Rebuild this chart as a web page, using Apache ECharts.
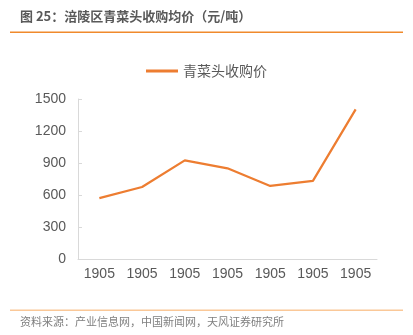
<!DOCTYPE html>
<html><head><meta charset="utf-8">
<script src="https://cdn.jsdelivr.net/npm/echarts@6/dist/echarts.min.js"></script>
<style>html,body{margin:0;padding:0;background:#fff}#c{width:413px;height:335px}</style>
</head><body><div id="c"></div>
<script>
const categories = ['1905','1905','1905','1905','1905','1905','1905'];
const seriesName = '青菜头收购价';
const values = [570, 675, 925, 850, 685, 732, 1403];
const yTicks = {min:0, max:1500, interval:300};
const titleText = '图 25：涪陵区青菜头收购均价（元/吨）';
const sourceText = '资料来源：产业信息网，中国新闻网，天风证券研究所';

const chart = echarts.init(document.getElementById('c'));
const font = '"Noto Sans CJK SC", "Liberation Sans", sans-serif';
chart.setOption({
  animation:false,
  textStyle:{fontFamily:font},
  graphic:[
    {type:'text', left:20, top:10, style:{text:titleText, fill:'#595959', font:'bold 13px '+font}},
    {type:'rect', shape:{x:10, y:31.5, width:393, height:1.5}, style:{fill:'#f08a2c'}},
    {type:'rect', shape:{x:10, y:309.5, width:393, height:1.5}, style:{fill:'#fac898'}},
    {type:'text', left:20, top:316, style:{text:sourceText, fill:'#7f7f7f', font:'11px '+font}}
  ],
  legend:{top:59, left:'center', itemWidth:32, itemHeight:3, icon:'rect', itemGap:4,
    textStyle:{color:'#595959', fontSize:14, fontFamily:font}, data:[seriesName]},
  grid:{left:78, right:36, top:99, bottom:76},
  xAxis:{type:'category', data:categories, boundaryGap:true,
    axisLine:{lineStyle:{color:'#d9d9d9'}}, axisTick:{show:false},
    axisLabel:{color:'#595959', fontSize:14, fontFamily:'"Liberation Sans", Arial, sans-serif', margin:8, interval:0}},
  yAxis:{type:'value', min:yTicks.min, max:yTicks.max, interval:yTicks.interval,
    axisLine:{show:true, lineStyle:{color:'#d9d9d9'}}, axisTick:{show:true, inside:true, length:4, lineStyle:{color:'#d9d9d9'}},
    splitLine:{show:false},
    axisLabel:{color:'#595959', fontSize:14, fontFamily:'"Liberation Sans", Arial, sans-serif', margin:12, formatter:v=>String(v)}},
  series:[{name:seriesName, type:'line', data:values, symbol:'none',
    lineStyle:{color:'#ed7d31', width:2.25}, itemStyle:{color:'#ed7d31'}}]
});
</script></body></html>
